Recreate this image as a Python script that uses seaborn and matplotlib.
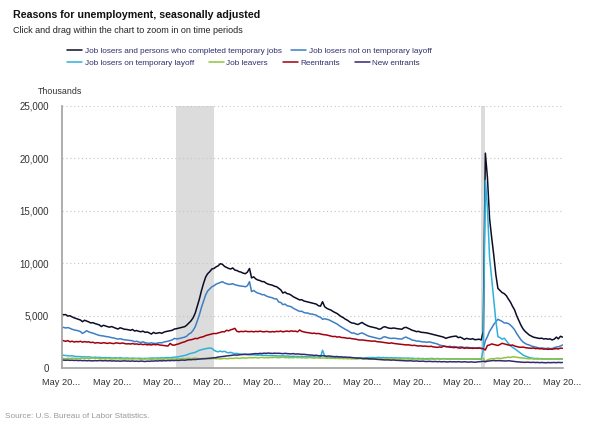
import numpy as np
import pandas as pd
import matplotlib.pyplot as plt
import seaborn as sns

# monthly, seasonally adjusted, thousands (May 2003 - May 2023)
months = pd.date_range("2003-05-01", "2023-05-01", freq="MS")

job_losers_all = [
    5150, 5080, 5100, 4960, 4990, 4880, 4790, 4720,
    4650, 4580, 4420, 4560, 4480, 4400, 4300, 4330, 4240, 4180, 4120, 3960,
    4080, 4010, 3950, 3900, 3960, 3870, 3800, 3720, 3840, 3780, 3700, 3690,
    3650, 3600, 3680, 3530, 3580, 3500, 3460, 3520, 3400, 3440, 3350, 3240,
    3400, 3300, 3340, 3380, 3310, 3420, 3480, 3520, 3560, 3600, 3720, 3750,
    3800, 3850, 3900, 3950, 4100, 4300, 4500, 4800, 5250, 5900, 6600, 7400,
    8100, 8700, 9000, 9200, 9450, 9500, 9650, 9750, 9950, 9900, 9700, 9600,
    9500, 9450, 9550, 9350, 9300, 9200, 9150, 9050, 9000, 9150, 9500, 8600,
    8700, 8500, 8400, 8350, 8250, 8240, 8100, 8000, 7950, 7900, 7800, 7760,
    7600, 7450, 7150, 7250, 7100, 7060, 6950, 6800, 6700, 6600, 6500, 6520,
    6400, 6350, 6300, 6250, 6200, 6150, 6100, 5950, 5900, 6330, 5850, 5700,
    5600, 5530, 5400, 5300, 5200, 5050, 4900, 4800, 4650, 4550, 4400, 4300,
    4280, 4200, 4150, 4260, 4350, 4200, 4100, 4000, 3940, 3900, 3850, 3800,
    3700, 3750, 3900, 3940, 3850, 3800, 3780, 3820, 3780, 3750, 3720, 3700,
    3850, 3880, 3800, 3700, 3600, 3550, 3470, 3500, 3420, 3400, 3370, 3350,
    3300, 3250, 3200, 3150, 3100, 3050, 3000, 2950, 2830, 2900, 2950, 3000,
    3020, 3050, 2900, 2950, 2850, 2730, 2830, 2780, 2750, 2800, 2700, 2720,
    2750, 2680, 3500, 20500, 18200, 14300, 12500, 10800, 8900, 7600, 7400, 7200,
    7100, 6900, 6600, 6300, 5900, 5550, 5000, 4550, 4100, 3750, 3500, 3330,
    3150, 3050, 2950, 2900, 2860, 2820, 2850, 2770, 2800, 2750, 2780, 2680,
    2760, 2950, 2780, 3030, 2950,
]

not_temp_layoff = [
    3850, 3880, 3820, 3860, 3790, 3700, 3640, 3600,
    3550, 3480, 3300, 3420, 3560, 3450, 3380, 3330, 3250, 3180, 3120, 3080,
    3060, 3010, 2990, 2950, 2900, 2870, 2810, 2760, 2800, 2740, 2700, 2680,
    2650, 2620, 2600, 2510, 2560, 2480, 2440, 2500, 2420, 2380, 2360, 2400,
    2360, 2340, 2380, 2420, 2400, 2480, 2520, 2560, 2620, 2680, 2830, 2780,
    2800, 2850, 2900, 2950, 3050, 3250, 3350, 3600, 3950, 4500, 5100, 5800,
    6400, 7000, 7350, 7550, 7750, 7850, 8000, 8080, 8150, 8240, 8120, 8050,
    7980, 8000, 8050, 7950, 7900, 7850, 7820, 7800, 7750, 7850, 8240, 7300,
    7400, 7250, 7150, 7100, 7000, 7000, 6880, 6800, 6750, 6700, 6600, 6600,
    6300, 6250, 6050, 6100, 5950, 5900, 5850, 5700, 5600, 5500, 5400, 5420,
    5300, 5250, 5250, 5150, 5150, 5100, 5050, 4900, 4850, 4650, 4700, 4650,
    4600, 4500, 4400, 4300, 4200, 4050, 3920, 3800, 3680, 3580, 3450, 3330,
    3350, 3250, 3200, 3300, 3350, 3250, 3150, 3050, 3000, 2950, 2900, 2850,
    2800, 2800, 2950, 2980, 2900, 2850, 2820, 2850, 2820, 2800, 2780, 2760,
    2900, 2950, 2850, 2780, 2660, 2640, 2570, 2570, 2530, 2490, 2490, 2450,
    2500, 2450, 2400, 2350, 2300, 2200, 2150, 2100, 2050, 2030, 2080, 2000,
    2050, 2000, 1980, 2030, 2000, 1950, 1980, 1960, 1920, 1950, 1900, 1930,
    1950, 1870, 1800, 2600, 3000, 3500, 3800, 4150, 4420, 4650, 4550, 4450,
    4300, 4300, 4250, 4100, 3900, 3650, 3300, 3000, 2700, 2500, 2350, 2250,
    2200, 2100, 2050, 2000, 1950, 1900, 1920, 1880, 1850, 1900, 1860, 1850,
    1950, 2000, 2030, 2100, 2200,
]

temp_layoff = [
    1240, 1210, 1190, 1170, 1150, 1180, 1120, 1100,
    1100, 1090, 1060, 1080, 1050, 1070, 1030, 1010, 1040, 1000, 1020, 990,
    980, 1000, 970, 990, 950, 960, 980, 940, 1000, 950, 930, 960,
    940, 920, 950, 930, 910, 940, 920, 900, 930, 910, 940, 950,
    960, 940, 970, 950, 980, 960, 990, 1000, 980, 1010, 1030, 1050,
    1080, 1120, 1150, 1200, 1250, 1350, 1400, 1450, 1500, 1600, 1700, 1750,
    1800, 1850, 1880, 1900, 1880, 1700, 1600, 1550, 1620, 1550, 1600, 1500,
    1450, 1500, 1420, 1380, 1400, 1350, 1320, 1300, 1280, 1310, 1260, 1250,
    1270, 1240, 1220, 1250, 1230, 1200, 1210, 1180, 1200, 1170, 1190, 1150,
    1160, 1140, 1170, 1130, 1150, 1120, 1100, 1130, 1090, 1110, 1080, 1100,
    1070, 1090, 1060, 1080, 1050, 1060, 1040, 1030, 1050, 1700, 1150, 1020,
    1010, 1000, 1020, 990, 980, 1000, 970, 990, 960, 980, 950, 970,
    960, 940, 970, 950, 930, 960, 980, 1000, 990, 1010, 980, 1000,
    1020, 990, 1010, 980, 1000, 970, 990, 960, 980, 950, 970, 940,
    950, 930, 960, 920, 940, 910, 900, 930, 890, 910, 880, 900,
    890, 920, 900, 880, 910, 890, 870, 900, 880, 860, 890, 870,
    880, 860, 890, 870, 850, 880, 860, 840, 870, 850, 860, 840,
    850, 830, 1700, 17900, 15300, 10600, 8600, 6600, 4500, 3000, 2900, 2750,
    2850, 2600, 2350, 2150, 1970, 1850, 1700, 1550, 1400, 1250, 1150, 1080,
    1000, 950, 930, 900, 920, 880, 900, 860, 880, 850, 870, 860,
    850, 880, 860, 890, 870,
]

job_leavers = [
    900, 920, 880, 930, 900, 950, 910, 930,
    890, 920, 950, 910, 940, 900, 930, 960, 920, 950, 910, 880,
    900, 870, 910, 880, 850, 890, 870, 900, 860, 880, 850, 870,
    860, 880, 850, 870, 900, 860, 840, 870, 850, 880, 860, 830,
    850, 870, 840, 860, 830, 850, 880, 860, 840, 870, 850, 880,
    900, 870, 920, 890, 910, 940, 900, 930, 950, 910, 880, 900,
    920, 880, 900, 870, 890, 920, 880, 900, 870, 900, 920, 890,
    900, 930, 910, 940, 960, 920, 950, 980, 940, 960, 1000, 970,
    980, 1000, 960, 990, 1020, 980, 1000, 970, 1010, 990, 1030, 1000,
    980, 1010, 1040, 990, 1000, 970, 1000, 980, 1020, 990, 1000, 970,
    990, 960, 980, 1000, 970, 950, 980, 960, 940, 970, 950, 930,
    950, 920, 940, 910, 930, 900, 920, 890, 910, 880, 900, 870,
    890, 860, 880, 900, 870, 850, 880, 860, 840, 870, 850, 880,
    860, 890, 870, 900, 880, 850, 870, 890, 860, 880, 850, 870,
    860, 880, 850, 870, 840, 860, 880, 850, 870, 840, 860, 830,
    850, 870, 840, 860, 880, 850, 870, 890, 860, 880, 850, 870,
    860, 880, 850, 870, 840, 860, 880, 850, 870, 890, 860, 880,
    870, 900, 920, 620, 780, 850, 900, 880, 920, 950, 900, 930,
    980, 1000, 1050, 1000, 1080, 1050, 1020, 1000, 980, 960, 930, 900,
    880, 900, 860, 870, 850, 880, 860, 840, 870, 850, 830, 860,
    840, 860, 830, 850, 840,
]

reentrants = [
    2670, 2600, 2550, 2620, 2500, 2560, 2480, 2530,
    2500, 2550, 2470, 2520, 2480, 2500, 2430, 2460, 2380, 2420, 2400, 2360,
    2420, 2380, 2350, 2400, 2360, 2330, 2400, 2380, 2340, 2390, 2350, 2300,
    2320, 2290, 2340, 2280, 2300, 2250, 2290, 2230, 2270, 2210, 2240, 2200,
    2260, 2220, 2250, 2200, 2180, 2150, 2120, 2100, 2350, 2200, 2180, 2250,
    2300, 2380, 2450, 2500, 2600, 2670, 2700, 2750, 2830, 2800, 2900, 2950,
    3000, 3100, 3150, 3200, 3250, 3300, 3280, 3350, 3400, 3470, 3450, 3600,
    3550, 3650, 3700, 3790, 3500, 3450, 3500, 3470, 3520, 3480, 3470, 3500,
    3450, 3500, 3470, 3520, 3480, 3450, 3500, 3470, 3440, 3480, 3450, 3500,
    3480, 3530, 3450, 3500, 3530, 3480, 3550, 3500, 3520, 3450, 3630, 3500,
    3450, 3400, 3380, 3350, 3300, 3330, 3280, 3300, 3250, 3200, 3180, 3150,
    3100, 3050, 3000, 3020, 2950, 2980, 2920, 2900, 2880, 2830, 2850, 2800,
    2780, 2750, 2700, 2670, 2680, 2650, 2620, 2600, 2580, 2560, 2580, 2520,
    2500, 2480, 2450, 2420, 2380, 2360, 2400, 2350, 2320, 2300, 2280, 2250,
    2230, 2200, 2220, 2180, 2150, 2170, 2130, 2100, 2120, 2080, 2100, 2070,
    2050, 2080, 2020, 2000, 1970, 2010, 1980, 2100, 2050, 2020, 1990, 1970,
    1950, 1980, 1920, 1900, 1950, 1880, 1920, 1890, 1910, 1870, 1900, 1880,
    1900, 1870, 1850, 1720, 2150, 2200, 2300, 2250, 2200, 2150, 2250, 2360,
    2300, 2250, 2200, 2150, 2200, 2100, 2050, 2000, 1980, 2000, 1950, 1920,
    1900, 1880, 1920, 1850, 1870, 1830, 1850, 1800, 1820, 1780, 1810, 1790,
    1830, 1850, 1820, 1900, 1880,
]

new_entrants = [
    770, 760, 740, 760, 730, 750, 720, 740,
    710, 730, 700, 720, 690, 710, 700, 680, 710, 690, 720, 700,
    690, 710, 680, 700, 670, 690, 660, 680, 650, 670, 690, 660,
    670, 650, 680, 640, 660, 630, 670, 650, 620, 660, 640, 670,
    660, 690, 670, 700, 680, 710, 690, 720, 700, 730, 710, 740,
    720, 750, 760, 740, 780, 800, 790, 820, 810, 840, 860, 870,
    880, 900, 920, 940, 960, 980, 1000, 1050, 1080, 1100, 1120, 1150,
    1180, 1200, 1220, 1250, 1230, 1260, 1280, 1300, 1320, 1290, 1310, 1340,
    1350, 1380, 1360, 1400, 1380, 1420, 1400, 1430, 1410, 1390, 1420, 1400,
    1410, 1390, 1370, 1400, 1380, 1360, 1350, 1380, 1330, 1350, 1320, 1300,
    1310, 1280, 1260, 1250, 1230, 1200, 1220, 1180, 1160, 1180, 1150, 1130,
    1150, 1120, 1100, 1080, 1100, 1060, 1070, 1040, 1050, 1020, 1030, 1000,
    980, 960, 940, 950, 920, 900, 910, 880, 870, 850, 860, 830,
    820, 800, 790, 770, 780, 760, 750, 770, 740, 730, 720, 710,
    700, 690, 680, 700, 670, 660, 680, 650, 640, 660, 630, 620,
    640, 620, 610, 630, 600, 620, 590, 610, 600, 580, 610, 590,
    600, 580, 610, 590, 570, 600, 580, 560, 590, 570, 550, 580,
    600, 620, 640, 600, 650, 680, 700, 720, 690, 710, 700, 680,
    690, 670, 700, 680, 650, 620, 600, 580, 560, 550, 540, 560,
    540, 530, 550, 520, 540, 510, 530, 520, 500, 530, 510, 520,
    530, 510, 540, 520, 530,
]

series_names = [
    "Job losers and persons who completed temporary jobs",
    "Job losers not on temporary layoff",
    "Job losers on temporary layoff",
    "Job leavers",
    "Reentrants",
    "New entrants",
]
series_colors = ["#0b0d26", "#3d7fc6", "#2fb0da", "#8cc63f", "#a1000f", "#35286e"]

recessions = [("2007-12-01", "2009-06-01"), ("2020-02-01", "2020-04-01")]

df = pd.DataFrame({
    "date": months,
    series_names[0]: job_losers_all,
    series_names[1]: not_temp_layoff,
    series_names[2]: temp_layoff,
    series_names[3]: job_leavers,
    series_names[4]: reentrants,
    series_names[5]: new_entrants,
})
long = df.melt(id_vars="date", var_name="series", value_name="thousands")

sns.set_style("white")
plt.rcParams["font.family"] = ["Liberation Sans", "DejaVu Sans"]

fig = plt.figure(figsize=(5.95, 4.24), dpi=100)
ax = fig.add_axes([0.1034, 0.132, 0.842, 0.618])

for start, end in recessions:
    ax.axvspan(pd.Timestamp(start), pd.Timestamp(end), color="#dcdcdc", lw=0, zorder=0)

sns.lineplot(data=long, x="date", y="thousands", hue="series",
             hue_order=series_names, palette=dict(zip(series_names, series_colors)),
             linewidth=1.1, ax=ax)

handles, labels = ax.get_legend_handles_labels()
ax.get_legend().remove()

ax.set_xlim(months[0], months[-1])
ax.set_ylim(0, 25000)
yt = list(range(0, 25001, 5000))
ax.set_yticks(yt)
ax.set_yticklabels([f"{v:,}" for v in yt])
xt = pd.date_range("2003-05-01", "2023-05-01", freq="24MS")
ax.set_xticks(xt)
ax.set_xticklabels(["May 20..."] * len(xt))
ax.tick_params(axis="both", length=0, labelsize=7, colors="#333333")
ax.tick_params(axis="x", pad=7, labelsize=6.7)
ax.tick_params(axis="y", pad=9)
ax.set_xlabel("")
ax.set_ylabel("")

ax.yaxis.grid(True, linestyle=(0, (1, 2.5)), color="#c4c4c4", linewidth=0.8)
ax.xaxis.grid(False)
for side in ["top", "right"]:
    ax.spines[side].set_visible(False)
for side in ["left", "bottom"]:
    ax.spines[side].set_color("#a0a0a0")
    ax.spines[side].set_linewidth(1.2)

leg_kw = dict(frameon=False, fontsize=5.9, labelcolor="#2e2e6b", handlelength=1.85,
              handletextpad=0.3, borderpad=0, borderaxespad=0, loc="center left")
fig.legend(handles[:2], labels[:2], ncol=2, columnspacing=1.2,
           bbox_to_anchor=(0.1126, 0.880), **leg_kw)
fig.legend(handles[2:], labels[2:], ncol=4, columnspacing=1.8,
           bbox_to_anchor=(0.1126, 0.851), **leg_kw)

fig.text(0.022, 0.957, "Reasons for unemployment, seasonally adjusted",
         fontsize=7.7, fontweight="bold", color="#111111", va="baseline")
fig.text(0.022, 0.921, "Click and drag within the chart to zoom in on time periods",
         fontsize=6.45, color="#222222", va="baseline")
fig.text(0.064, 0.779, "Thousands", fontsize=6.4, color="#333333", va="baseline")
fig.text(0.009, 0.015, "Source: U.S. Bureau of Labor Statistics.",
         fontsize=5.85, color="#999999", va="baseline")

fig.savefig("out.png", dpi=100)
